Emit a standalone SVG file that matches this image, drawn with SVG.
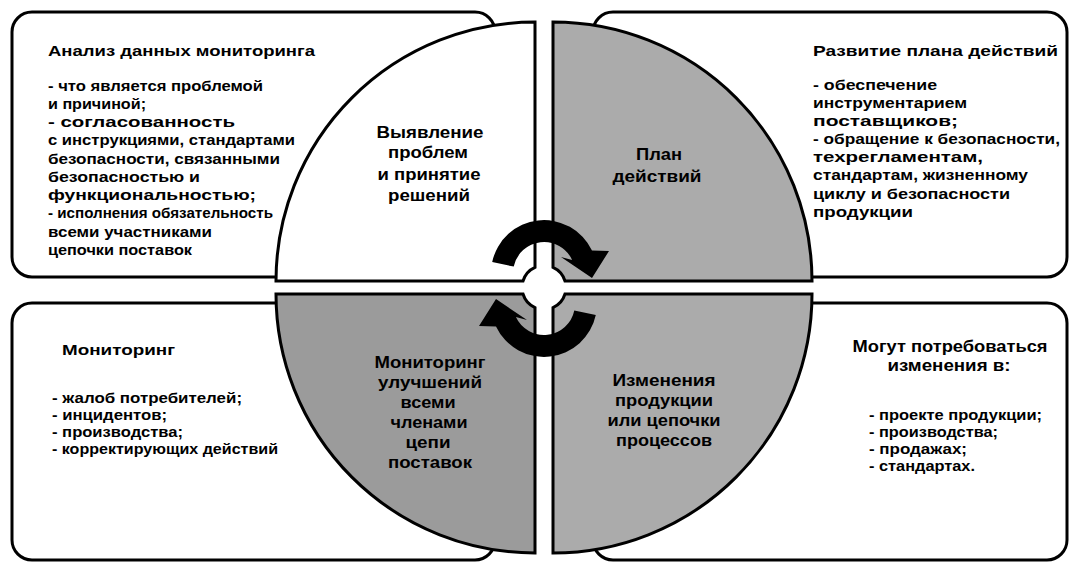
<svg xmlns="http://www.w3.org/2000/svg" width="1071" height="563" viewBox="0 0 1071 563">
<style>
.box{fill:#fff;stroke:#000;stroke-width:3}
.q{stroke:#000;stroke-width:3}
.t{font-family:"Liberation Sans",Arial,sans-serif;font-weight:bold;fill:#000}
.h{font-size:15px}
.l{font-size:14px}
.c{font-size:16px;text-anchor:middle}
.arrow{fill:#000}
</style>
<rect width="1071" height="563" fill="#fff"/>
<g id="box-analysis"><rect class="box" x="12" y="12" width="483" height="265" rx="20"/></g>
<g id="box-plan"><rect class="box" x="593" y="12" width="474" height="265" rx="20"/></g>
<g id="box-monitoring"><rect class="box" x="12" y="303" width="483" height="257" rx="20"/></g>
<g id="box-changes"><rect class="box" x="593" y="303" width="474" height="257" rx="20"/></g>

<g id="q-identify"><path class="q" fill="#fff" d="M 276 281 A 259 259 0 0 1 535 22 L 535 267.4 A 22 22 0 0 0 523 281 Z"/></g>
<g id="q-actionplan"><path class="q" fill="#ababab" d="M 553 22 A 259 259 0 0 1 812 281 L 565 281 A 22 22 0 0 0 553 267.4 Z"/></g>
<g id="q-productchange"><path class="q" fill="#ababab" d="M 565 294 L 812 294 A 259 259 0 0 1 553 553 L 553 307.6 A 22 22 0 0 0 565 294 Z"/></g>
<g id="q-improvement"><path class="q" fill="#9b9b9b" d="M 535 307.6 L 535 553 A 259 259 0 0 1 276 294 L 523 294 A 22 22 0 0 0 535 307.6 Z"/></g>

<g id="connectors">
<path class="arrow" d="M 492.2 262 A 53 53 0 0 1 592 250.6 L 609 251 L 592 278 L 561 257 L 572.1 259.9 A 31 31 0 0 0 513.7 266.6 Z"/>
<path class="arrow" transform="rotate(180 544 288.5)" d="M 492.2 262 A 53 53 0 0 1 592 250.6 L 609 251 L 592 278 L 561 257 L 572.1 259.9 A 31 31 0 0 0 513.7 266.6 Z"/>
</g>

<g id="text-analysis" class="t">
<text class="h" x="48" y="56" textLength="267" lengthAdjust="spacingAndGlyphs">Анализ данных мониторинга</text>
<text class="l" x="48" y="91" textLength="215" lengthAdjust="spacingAndGlyphs">- что является проблемой</text>
<text class="l" x="48" y="109" textLength="98" lengthAdjust="spacingAndGlyphs">и причиной;</text>
<text class="l" x="48" y="127" textLength="187" lengthAdjust="spacingAndGlyphs">- согласованность</text>
<text class="l" x="48" y="145" textLength="247" lengthAdjust="spacingAndGlyphs">с инструкциями, стандартами</text>
<text class="l" x="48" y="164" textLength="232" lengthAdjust="spacingAndGlyphs">безопасности, связанными</text>
<text class="l" x="48" y="182" textLength="152" lengthAdjust="spacingAndGlyphs">безопасностью и</text>
<text class="l" x="48" y="200" textLength="208" lengthAdjust="spacingAndGlyphs">функциональностью;</text>
<text class="l" x="48" y="218" textLength="225" lengthAdjust="spacingAndGlyphs">- исполнения обязательность</text>
<text class="l" x="48" y="237" textLength="164" lengthAdjust="spacingAndGlyphs">всеми участниками</text>
<text class="l" x="48" y="255" textLength="144" lengthAdjust="spacingAndGlyphs">цепочки поставок</text>
</g>

<g id="text-identify" class="t">
<text class="c" x="430" y="138" textLength="107" lengthAdjust="spacingAndGlyphs">Выявление</text>
<text class="c" x="428" y="158" textLength="80" lengthAdjust="spacingAndGlyphs">проблем</text>
<text class="c" x="429" y="180" textLength="103" lengthAdjust="spacingAndGlyphs">и принятие</text>
<text class="c" x="429" y="201" textLength="82" lengthAdjust="spacingAndGlyphs">решений</text>
</g>

<g id="text-actionplan" class="t">
<text class="c" x="659" y="160" textLength="46" lengthAdjust="spacingAndGlyphs">План</text>
<text class="c" x="657" y="182" textLength="89" lengthAdjust="spacingAndGlyphs">действий</text>
</g>

<g id="text-plan" class="t">
<text class="h" x="813" y="56" textLength="245" lengthAdjust="spacingAndGlyphs">Развитие плана действий</text>
<text class="l" x="813" y="90" textLength="124" lengthAdjust="spacingAndGlyphs">- обеспечение</text>
<text class="l" x="813" y="108" textLength="154" lengthAdjust="spacingAndGlyphs">инструментарием</text>
<text class="l" x="813" y="126" textLength="145" lengthAdjust="spacingAndGlyphs">поставщиков;</text>
<text class="l" x="813" y="144" textLength="247" lengthAdjust="spacingAndGlyphs">- обращение к безопасности,</text>
<text class="l" x="813" y="162" textLength="170" lengthAdjust="spacingAndGlyphs">техрегламентам,</text>
<text class="l" x="813" y="180" textLength="215" lengthAdjust="spacingAndGlyphs">стандартам, жизненному</text>
<text class="l" x="813" y="199" textLength="197" lengthAdjust="spacingAndGlyphs">циклу и безопасности</text>
<text class="l" x="813" y="217" textLength="100" lengthAdjust="spacingAndGlyphs">продукции</text>
</g>

<g id="text-monitoring" class="t">
<text class="h" x="62" y="355" textLength="113" lengthAdjust="spacingAndGlyphs">Мониторинг</text>
<text class="l" x="52" y="403" textLength="190" lengthAdjust="spacingAndGlyphs">- жалоб потребителей;</text>
<text class="l" x="52" y="420" textLength="115" lengthAdjust="spacingAndGlyphs">- инцидентов;</text>
<text class="l" x="52" y="437" textLength="131" lengthAdjust="spacingAndGlyphs">- производства;</text>
<text class="l" x="52" y="454" textLength="226" lengthAdjust="spacingAndGlyphs">- корректирующих действий</text>
</g>

<g id="text-improvement" class="t">
<text class="c" x="430" y="368" textLength="111" lengthAdjust="spacingAndGlyphs">Мониторинг</text>
<text class="c" x="430" y="388" textLength="104" lengthAdjust="spacingAndGlyphs">улучшений</text>
<text class="c" x="428" y="408" textLength="55" lengthAdjust="spacingAndGlyphs">всеми</text>
<text class="c" x="429" y="428" textLength="77" lengthAdjust="spacingAndGlyphs">членами</text>
<text class="c" x="428" y="448" textLength="45" lengthAdjust="spacingAndGlyphs">цепи</text>
<text class="c" x="430" y="468" textLength="84" lengthAdjust="spacingAndGlyphs">поставок</text>
</g>

<g id="text-productchange" class="t">
<text class="c" x="664" y="386" textLength="103" lengthAdjust="spacingAndGlyphs">Изменения</text>
<text class="c" x="664" y="406" textLength="98" lengthAdjust="spacingAndGlyphs">продукции</text>
<text class="c" x="664" y="426" textLength="113" lengthAdjust="spacingAndGlyphs">или цепочки</text>
<text class="c" x="664" y="446" textLength="96" lengthAdjust="spacingAndGlyphs">процессов</text>
</g>

<g id="text-changes" class="t">
<text class="c" x="950" y="352" textLength="195" lengthAdjust="spacingAndGlyphs">Могут потребоваться</text>
<text class="c" x="949" y="371" textLength="123" lengthAdjust="spacingAndGlyphs">изменения в:</text>
<text class="l" x="869" y="420" textLength="173" lengthAdjust="spacingAndGlyphs">- проекте продукции;</text>
<text class="l" x="869" y="437" textLength="129" lengthAdjust="spacingAndGlyphs">- производства;</text>
<text class="l" x="869" y="454" textLength="98" lengthAdjust="spacingAndGlyphs">- продажах;</text>
<text class="l" x="869" y="471" textLength="106" lengthAdjust="spacingAndGlyphs">- стандартах.</text>
</g>
</svg>
